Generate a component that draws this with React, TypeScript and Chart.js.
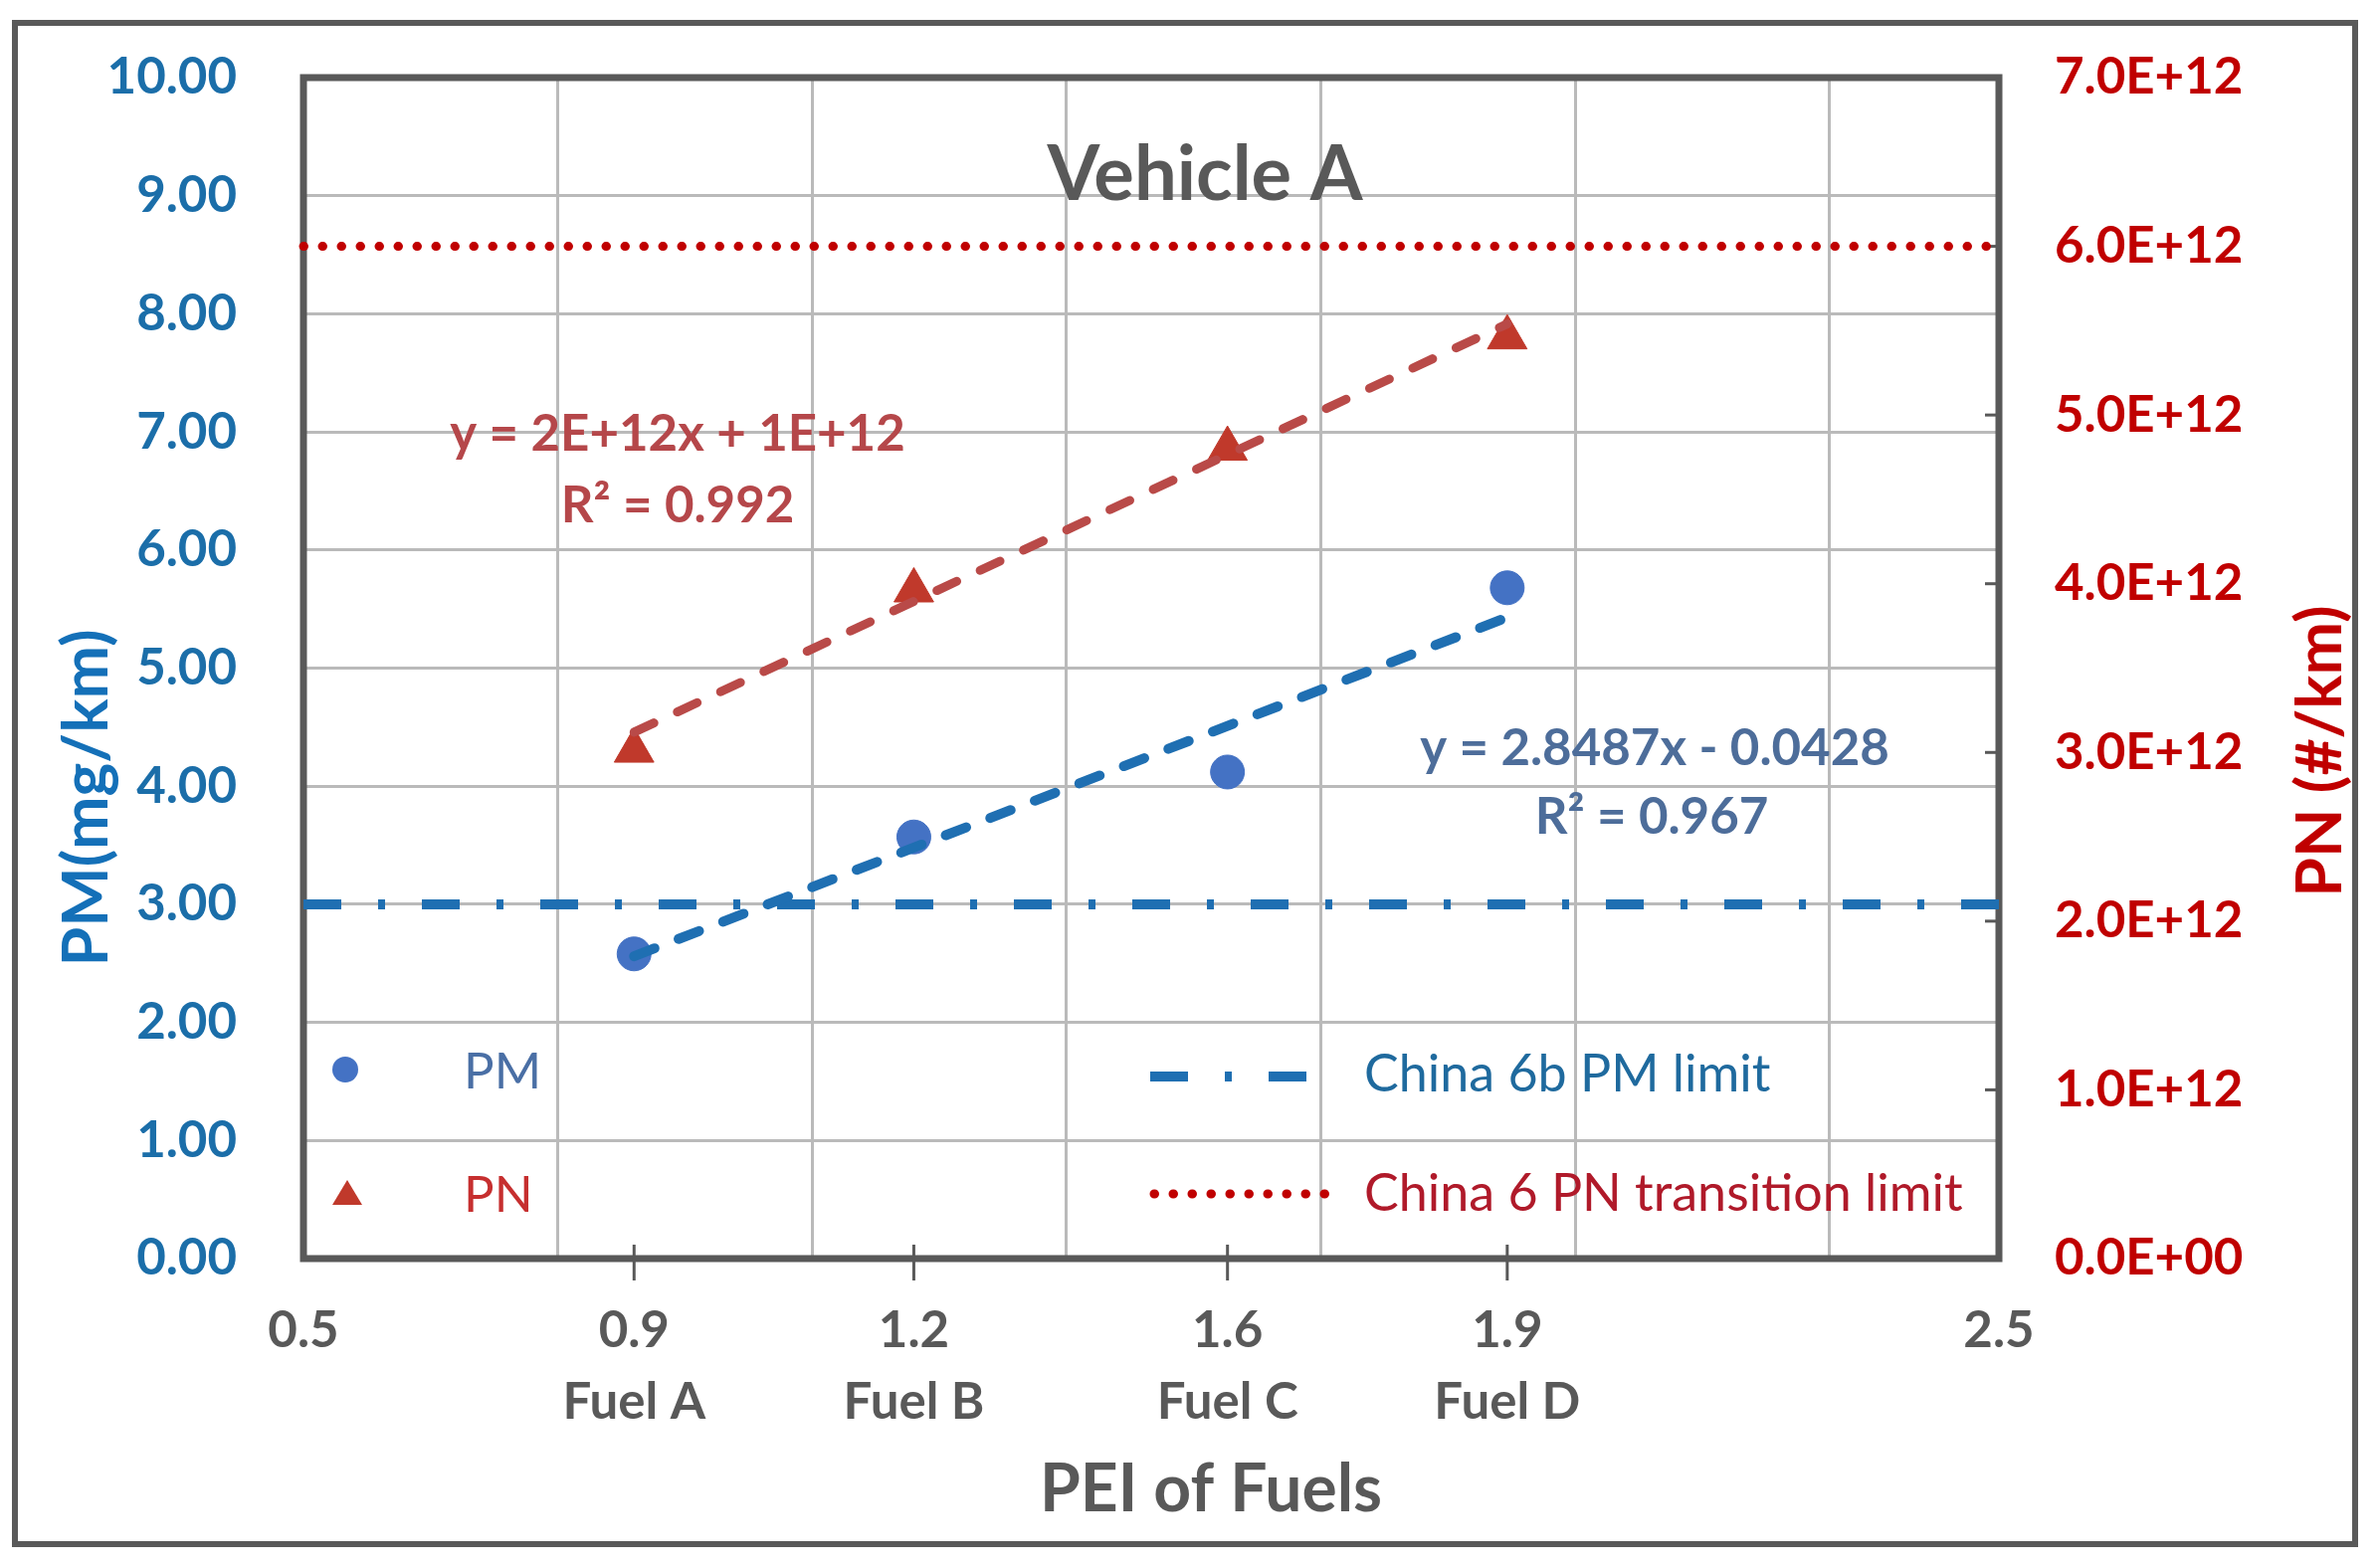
import { useEffect, useRef } from 'react'
import { Chart, registerables } from 'chart.js'

Chart.register(...registerables)

// fuels and their PEI (x); axis labels show one decimal
const fuelNames = ['Fuel A', 'Fuel B', 'Fuel C', 'Fuel D']
const fuelPEI = [0.89, 1.22, 1.59, 1.92]

// measured emissions
const pmValues = [2.58, 3.57, 4.12, 5.68] // mg/km
const pnValues = [3.01e12, 3.96e12, 4.8e12, 5.46e12] // #/km

// linear trend lines, ends
const trendX = [0.89, 1.92]
const pmTrend = [2.56, 5.43]
const pnTrend = [3.12e12, 5.54e12]
const pmEquation = ['y = 2.8487x - 0.0428', 'R² = 0.967']
const pnEquation = ['y = 2E+12x + 1E+12', 'R² = 0.992']

// regulation limits
const pmLimit = 3.0
const pnLimit = 6.0e12

// axes
const xRange = [0.5, 2.5]
const xGridTicks = [0.5, 0.8, 1.1, 1.4, 1.7, 2.0, 2.3, 2.5]
const xEdgeTicks = [0.5, 2.5]
const pmMax = 10
const pnMax = 7e12

const GRAY = '#595959'
const GRID = '#bababa'
const BLUE_TICK = '#1b6ea9'
const RED_TICK = '#c00000'
const PM_LINE = '#1f6fb2'

const sci = (v: number) => {
  if (v === 0) return '0.0E+00'
  const e = Math.floor(Math.log10(v) + 1e-9)
  const m = v / Math.pow(10, e)
  return `${m.toFixed(1)}E+${String(e).padStart(2, '0')}`
}

const txt = (
  ctx: CanvasRenderingContext2D,
  s: string,
  x: number,
  y: number,
  font: string,
  color: string,
  align: CanvasTextAlign = 'center',
  rotate = 0,
) => {
  ctx.save()
  ctx.translate(x, y)
  if (rotate) ctx.rotate(rotate)
  ctx.font = font
  ctx.fillStyle = color
  ctx.textAlign = align
  ctx.textBaseline = 'middle'
  ctx.fillText(s, 0, 0)
  ctx.restore()
}

const decor = {
  id: 'decor',
  beforeDraw(chart: any) {
    const { ctx, width, height } = chart
    ctx.save()
    ctx.fillStyle = '#fff'
    ctx.fillRect(0, 0, width, height)
    ctx.strokeStyle = GRAY
    ctx.lineWidth = 6
    ctx.strokeRect(15, 23, 2352, 1529)
    ctx.restore()
  },
  beforeDatasetsDraw(chart: any) {
    const { ctx, chartArea: a } = chart
    ctx.save()
    ctx.strokeStyle = GRAY
    ctx.lineWidth = 7
    ctx.strokeRect(a.left, a.top, a.right - a.left, a.bottom - a.top)

    // secondary axis tick marks, inside the plot
    ctx.lineWidth = 3
    const y1 = chart.scales.y1
    y1.ticks.forEach((t: any) => {
      const py = y1.getPixelForValue(t.value)
      ctx.beginPath()
      ctx.moveTo(a.right - 14, py)
      ctx.lineTo(a.right, py)
      ctx.stroke()
    })
    // cross ticks at each fuel
    const xl = chart.scales.xl
    fuelPEI.forEach(v => {
      const px = xl.getPixelForValue(v)
      ctx.beginPath()
      ctx.moveTo(px, a.bottom - 14)
      ctx.lineTo(px, a.bottom + 22)
      ctx.stroke()
    })
    ctx.restore()
  },
  afterDatasetsDraw(chart: any) {
    const { ctx } = chart

    txt(ctx, 'Vehicle A', 1211, 176, 'bold 76px Lato', GRAY)
    txt(ctx, pnEquation[0], 681, 437, 'bold 51px Lato', '#b5474a')
    txt(ctx, pnEquation[1], 681, 509, 'bold 51px Lato', '#b5474a')
    txt(ctx, pmEquation[0], 1663, 753, 'bold 51px Lato', '#4d6d9a')
    txt(ctx, pmEquation[1], 1660, 822, 'bold 51px Lato', '#4d6d9a')

    // axis titles
    txt(ctx, 'PM(mg/km)', 87, 802, 'bold 64px Lato', '#1470b8', 'center', -Math.PI / 2)
    txt(ctx, 'PN (#/km)', 2332, 755, 'bold 64px Lato', RED_TICK, 'center', -Math.PI / 2)
    txt(ctx, 'PEI of Fuels', 1217, 1498, 'bold 66px Lato', GRAY)

    // legend
    ctx.save()
    ctx.fillStyle = '#4472c4'
    ctx.beginPath()
    ctx.arc(347, 1075, 13, 0, Math.PI * 2)
    ctx.fill()
    ctx.fillStyle = '#c0392b'
    ctx.beginPath()
    ctx.moveTo(349, 1186)
    ctx.lineTo(364, 1211)
    ctx.lineTo(334, 1211)
    ctx.closePath()
    ctx.fill()

    ctx.strokeStyle = PM_LINE
    ctx.lineWidth = 10
    ctx.setLineDash([38, 37, 7, 37])
    ctx.beginPath()
    ctx.moveTo(1156, 1082)
    ctx.lineTo(1319, 1082)
    ctx.stroke()

    ctx.strokeStyle = RED_TICK
    ctx.lineWidth = 9
    ctx.lineCap = 'round'
    ctx.setLineDash([0.5, 18.5])
    ctx.beginPath()
    ctx.moveTo(1160, 1200)
    ctx.lineTo(1340, 1200)
    ctx.stroke()
    ctx.restore()

    txt(ctx, 'PM', 466, 1078, '51px Lato', '#4a6fa5', 'left')
    txt(ctx, 'PN', 466, 1202, '51px Lato', '#c62f2f', 'left')
    txt(ctx, 'China 6b PM limit', 1371, 1080, '52px Lato', '#1f6a9e', 'left')
    txt(ctx, 'China 6 PN transition limit', 1371, 1200, '52px Lato', '#b01a2a', 'left')
  },
}

const tickFont = { family: 'Lato', size: 51, weight: 'bold' as const }

export default function App() {
  const canvasRef = useRef<HTMLCanvasElement>(null)
  const chartRef = useRef<Chart | null>(null)

  useEffect(() => {
    if (!canvasRef.current) return
    const ctx = canvasRef.current.getContext('2d')
    if (!ctx) return
    if (chartRef.current) chartRef.current.destroy()

    const pts = (xs: number[], ys: number[]) => xs.map((x, i) => ({ x, y: ys[i] }))
    const labelTicks = [xEdgeTicks[0], ...fuelPEI, xEdgeTicks[1]]

    chartRef.current = new Chart(ctx, {
      type: 'scatter',
      data: {
        datasets: [
          {
            label: 'PM trend',
            data: pts(trendX, pmTrend),
            yAxisID: 'y',
            showLine: true,
            borderColor: PM_LINE,
            borderWidth: 10,
            borderDash: [22, 26],
            borderCapStyle: 'round',
            pointRadius: 0,
            order: 0,
          },
          {
            label: 'PN trend',
            data: pts(trendX, pnTrend),
            yAxisID: 'y1',
            showLine: true,
            borderColor: '#b94a48',
            borderWidth: 9,
            borderDash: [22, 26],
            borderCapStyle: 'round',
            pointRadius: 0,
            order: 0,
          },
          {
            label: 'PM',
            data: pts(fuelPEI, pmValues),
            yAxisID: 'y',
            pointStyle: 'circle',
            pointRadius: 17,
            backgroundColor: '#4472c4',
            borderColor: '#4472c4',
            borderWidth: 1,
            order: 1,
          },
          {
            label: 'PN',
            data: pts(fuelPEI, pnValues),
            yAxisID: 'y1',
            pointStyle: 'triangle',
            pointRadius: 23,
            backgroundColor: '#c0392b',
            borderColor: '#c0392b',
            borderWidth: 1,
            order: 1,
          },
          {
            label: 'China 6b PM limit',
            data: xRange.map(x => ({ x, y: pmLimit })),
            yAxisID: 'y',
            showLine: true,
            borderColor: PM_LINE,
            borderWidth: 10,
            borderDash: [38, 37, 7, 37],
            pointRadius: 0,
            clip: false,
            order: 2,
          },
          {
            label: 'China 6 PN transition limit',
            data: xRange.map(x => ({ x, y: pnLimit })),
            yAxisID: 'y1',
            showLine: true,
            borderColor: RED_TICK,
            borderWidth: 9,
            borderDash: [0.5, 18.5],
            borderCapStyle: 'round',
            pointRadius: 0,
            clip: false,
            order: 2,
          },
        ],
      },
      options: {
        animation: false,
        responsive: true,
        maintainAspectRatio: false,
        events: [],
        layout: { padding: { top: 78, left: 0, right: 0, bottom: 0 } },
        plugins: {
          legend: { display: false },
          tooltip: { enabled: false },
        },
        scales: {
          x: {
            type: 'linear',
            position: 'bottom',
            min: xRange[0],
            max: xRange[1],
            afterBuildTicks: (s: any) => {
              s.ticks = xGridTicks.map(value => ({ value }))
            },
            afterFit: (s: any) => {
              s.height = 0
            },
            ticks: { display: false },
            grid: { color: GRID, lineWidth: 3, drawTicks: false },
            border: { display: false },
          },
          xl: {
            type: 'linear',
            position: 'bottom',
            min: xRange[0],
            max: xRange[1],
            afterBuildTicks: (s: any) => {
              s.ticks = labelTicks.map(value => ({ value }))
            },
            afterFit: (s: any) => {
              s.height = 311
            },
            ticks: {
              autoSkip: false,
              maxRotation: 0,
              padding: 37,
              color: GRAY,
              font: { ...tickFont, lineHeight: 1.4 },
              callback: (v: any) => {
                const i = fuelPEI.indexOf(Number(v))
                const s = Number(v).toFixed(1)
                return i >= 0 ? [s, fuelNames[i]] : s
              },
            },
            grid: { display: false, drawTicks: false },
            border: { display: false },
          },
          y: {
            position: 'left',
            min: 0,
            max: pmMax,
            afterFit: (s: any) => {
              s.width = 305
              s.paddingTop = 0
              s.paddingBottom = 0
            },
            ticks: {
              stepSize: 1,
              padding: 67,
              color: BLUE_TICK,
              font: tickFont,
              callback: (v: any) => Number(v).toFixed(2),
            },
            grid: { color: GRID, lineWidth: 3, drawTicks: false },
            border: { display: false },
          },
          y1: {
            position: 'right',
            min: 0,
            max: pnMax,
            afterFit: (s: any) => {
              s.width = 383
              s.paddingTop = 0
              s.paddingBottom = 0
            },
            ticks: {
              stepSize: 1e12,
              padding: 56,
              color: RED_TICK,
              font: tickFont,
              callback: (v: any) => sci(Number(v)),
            },
            grid: { display: false, drawTicks: false },
            border: { display: false },
          },
        },
      } as any,
      plugins: [decor],
    })

    return () => {
      chartRef.current?.destroy()
      chartRef.current = null
    }
  }, [])

  return (
    <div style={{ position: 'absolute', left: 0, top: 0, width: 2392, height: 1576, background: '#fff' }}>
      <canvas ref={canvasRef} />
    </div>
  )
}
